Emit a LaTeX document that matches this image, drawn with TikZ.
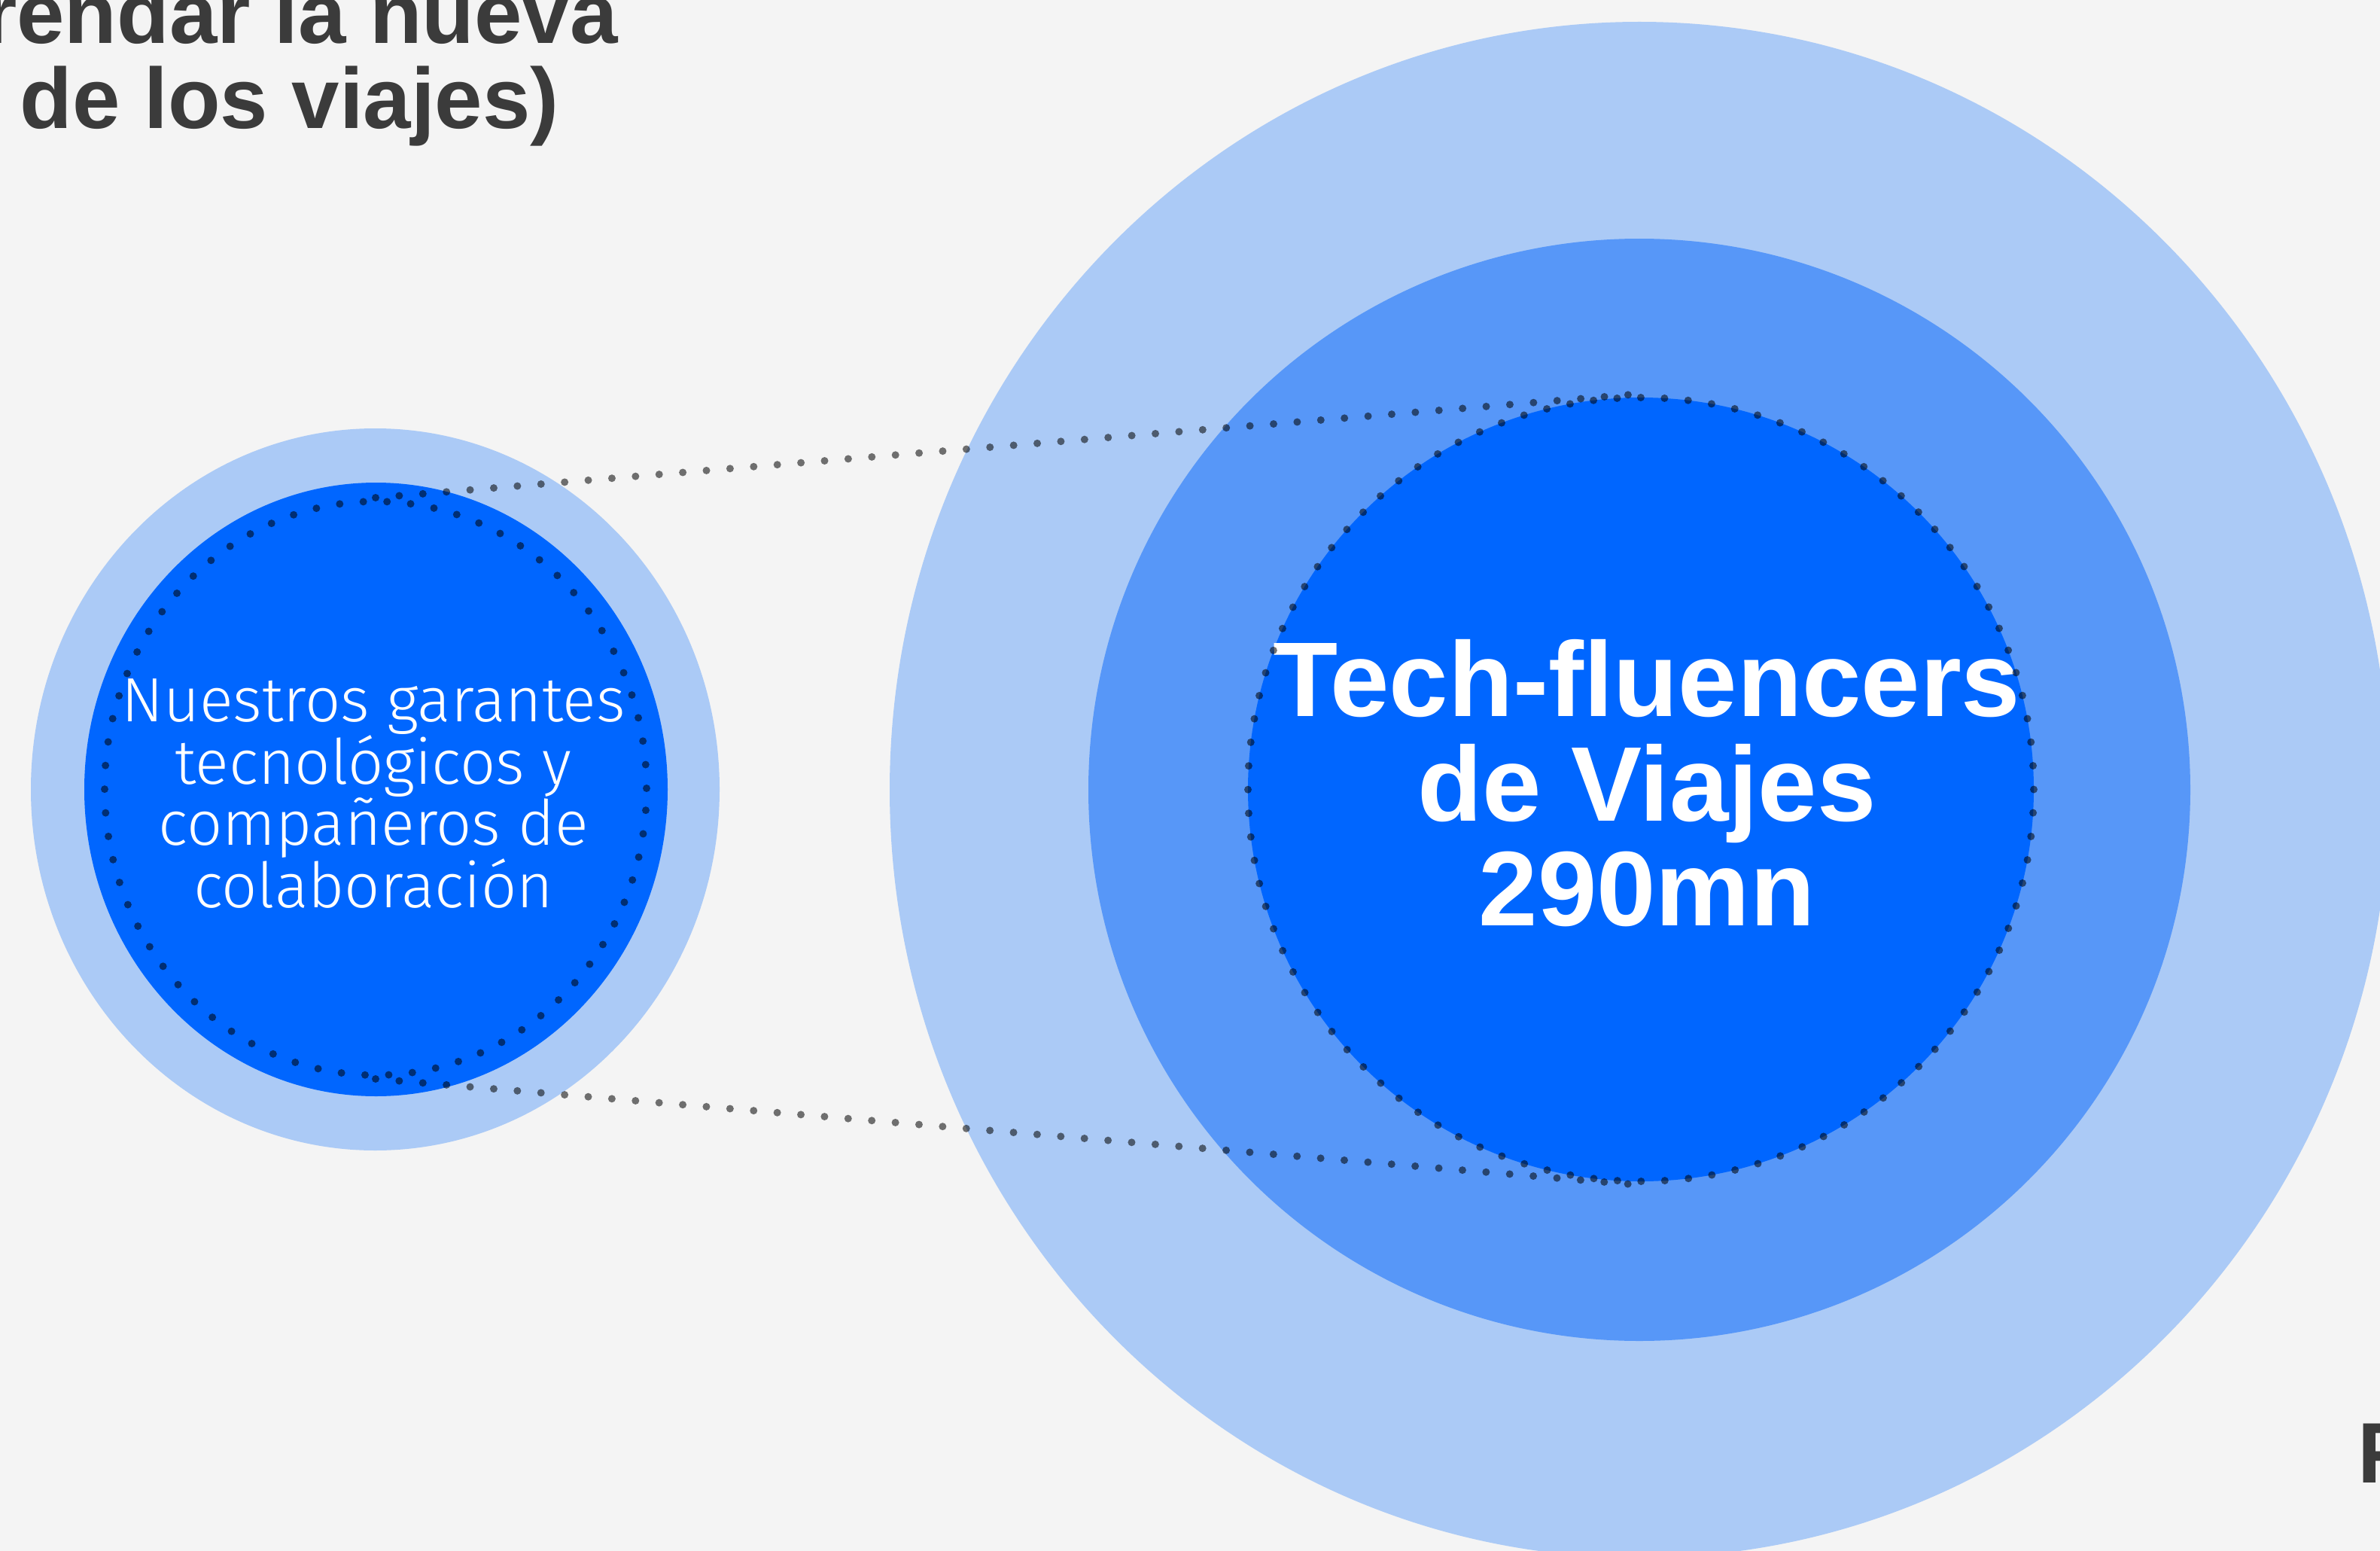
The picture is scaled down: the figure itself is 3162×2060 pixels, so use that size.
\documentclass[tikz,border=0pt]{standalone}
\usepackage{fontspec}
\setmainfont{Liberation Sans}
\IfFontExistsTF{Fira Sans Light}{\newfontfamily\lightfont{Fira Sans Light}}{\newfontfamily\lightfont{Liberation Sans}}
\usetikzlibrary{shapes.geometric}
\definecolor{bg}{HTML}{F4F4F4}
\definecolor{pale}{HTML}{ABCAF6}
\definecolor{mid}{HTML}{5797F8}
\definecolor{deep}{HTML}{0066FF}
\definecolor{ink}{HTML}{3B3B3B}
\begin{document}
\begin{tikzpicture}[x=1pt,y=-1pt,
  disc/.style={ellipse, inner sep=0pt, draw=none},
  dotring/.style={ellipse, inner sep=0pt, fill=none, draw=black, draw opacity=0.55,
    line width=10pt, line cap=round, dash pattern=on 0pt off 31.5pt},
  dotline/.style={draw=black, draw opacity=0.55, line width=10pt, line cap=round,
    dash pattern=on 0pt off 31.5pt},
  titletext/.style={font=\bfseries\fontsize{114}{113}\selectfont, text=ink, inner sep=0pt},
  bigtext/.style={font=\bfseries\fontsize{141}{139}\selectfont, text=white, align=center, inner sep=0pt},
  smalltext/.style={font=\lightfont\fontsize{83}{79.5}\selectfont, text=white, align=center, inner sep=0pt},
]
\useasboundingbox (0,0) rectangle (3162,2060);
\clip (0,0) rectangle (3162,2060);
\fill[bg] (0,0) rectangle (3162,2060);

% large group
\node[disc, fill=pale, minimum width=1992pt, minimum height=2040pt] (bigouter) at (2178,1049) {};
\node[disc, fill=mid, minimum width=1464pt, minimum height=1464pt] (bigmid) at (2178,1049) {};
\node[disc, fill=deep, minimum width=1044pt, minimum height=1041pt] (biginner) at (2180,1048.5) {};

% small group
\node[disc, fill=pale, minimum width=915pt, minimum height=959pt] (smallouter) at (498.5,1048.5) {};
\node[disc, fill=deep, minimum width=775pt, minimum height=815pt] (smallinner) at (499.5,1048.5) {};

% texts
\node[bigtext] (bigtxt) at (2188,1040) {Tech-fluencers\\de Viajes\\290mn};
\node[smalltext] (smalltxt) at (496,1054) {Nuestros garantes\\tecnológicos y\\compañeros de\\colaboración};

\node[titletext, anchor=base east] (title1) at (821,58) {rendar la nueva};
\node[titletext, anchor=base east] (title2) at (743,171) {de los viajes)};
\node[titletext, anchor=base west] (corner) at (3132,1969) {F};

% dotted rings and connectors
\node[dotring, minimum width=720pt, minimum height=762pt] (smallring) at (499,1047) {};
\node[dotring, minimum width=1044pt, minimum height=1041pt] (bigring) at (2180,1048.5) {};
\draw[dotline] (smallring.north) -- (bigring.north);
\draw[dotline] (smallring.south) -- (bigring.south);
\end{tikzpicture}
\end{document}
